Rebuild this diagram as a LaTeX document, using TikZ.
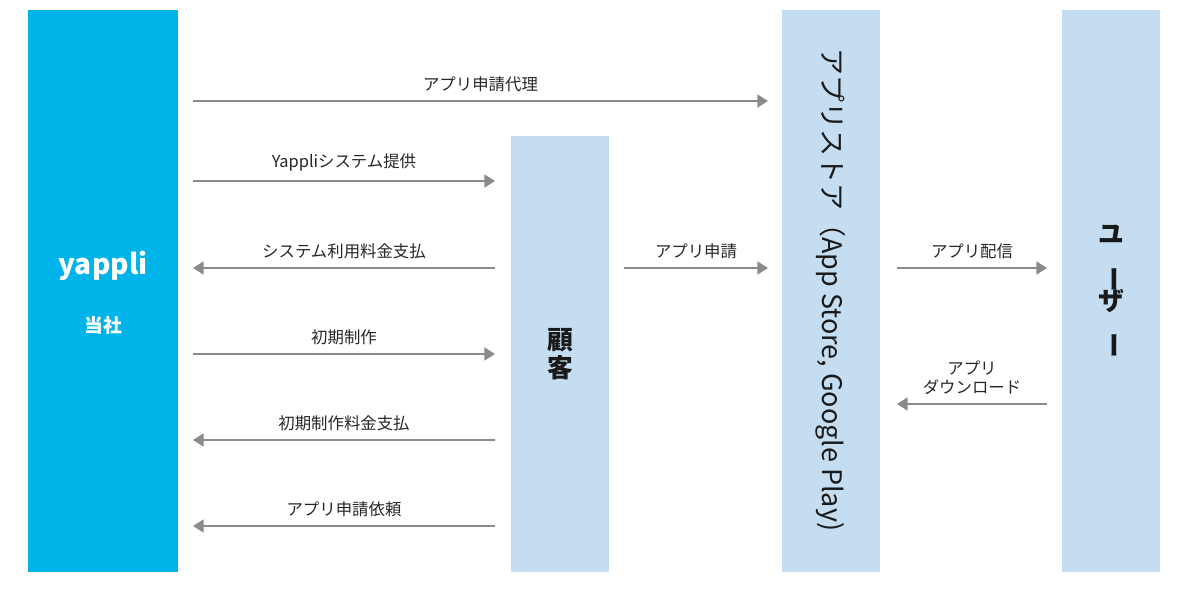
\documentclass[tikz,border=0pt]{standalone}
\usepackage{fontspec}
\setmainfont{Noto Sans CJK JP}
\usetikzlibrary{arrows.meta}
\definecolor{yappliblue}{HTML}{00B4EA}
\definecolor{boxblue}{HTML}{C5DDF0}
\definecolor{arrowgray}{HTML}{8A8A8A}
\tikzset{
  col/.style={fill=boxblue,draw=none},
  flow/.style={draw=arrowgray,line width=1.4pt,-{Triangle[length=9pt,width=11pt]}},
  lbl/.style={font=\fontsize{14}{16}\selectfont,text=black!85},
  big/.style={font=\fontsize{22}{22}\selectfont,text=black!90}
}
\begin{document}
\begin{tikzpicture}[x=0.03cm,y=-0.03cm]
	%% frame
	\useasboundingbox (0,0) rectangle (1195,599);

	% columns
	\fill[yappliblue] (28,10) rectangle (178,572);
	\fill[col] (511,136) rectangle (609,572);
	\fill[col] (782,10) rectangle (880,572);
	\fill[col] (1062,10) rectangle (1160,572);

	\node[font=\fontsize{24}{26}\selectfont\bfseries,text=white] (logo) at (103,266) {yappli};
	\node[font=\fontsize{16}{18}\selectfont\bfseries,text=white] (us) at (103,325) {当社};
	\node[big,font=\fontsize{22}{24}\selectfont\bfseries,align=center] (kokyaku) at (560,354) {顧\\客};
	\node[big,font=\fontsize{23}{23}\selectfont,rotate=-90] (store) at (831,290) {アプリストア（App Store, Google Play)};
	\node[big,font=\fontsize{22}{22}\selectfont\bfseries,align=center,inner sep=0pt] (user) at (1111,292)
	  {ユ\\[-3pt]\rotatebox{-90}{ー}\\[-3pt]ザ\\[-3pt]\rotatebox{-90}{ー}};

	% end points
	\foreach \n/\y in {a/101,b/181,c/268,d/354,e/440,f/526} {
		\coordinate (L\n) at (193,\y);
		\coordinate (R\n) at (495,\y);
	}
	\coordinate (Sa) at (768,101);
	\coordinate (Ka) at (624,268);
	\coordinate (Sc) at (768,268);
	\coordinate (Ua) at (897,268);
	\coordinate (Ub) at (1047,268);
	\coordinate (Da) at (1047,404);
	\coordinate (Db) at (897,404);

	% arrows
	\draw[flow] (La) -- node[lbl,above=4pt] {アプリ申請代理} (Sa);
	\draw[flow] (Lb) -- node[lbl,above=4pt] {Yappliシステム提供} (Rb);
	\draw[flow] (Rc) -- node[lbl,above=4pt] {システム利用料金支払} (Lc);
	\draw[flow] (Ld) -- node[lbl,above=4pt] {初期制作} (Rd);
	\draw[flow] (Re) -- node[lbl,above=4pt] {初期制作料金支払} (Le);
	\draw[flow] (Rf) -- node[lbl,above=4pt] {アプリ申請依頼} (Lf);
	\draw[flow] (Ka) -- node[lbl,above=4pt] {アプリ申請} (Sc);
	\draw[flow] (Ua) -- node[lbl,above=4pt] {アプリ配信} (Ub);
	\draw[flow] (Da) -- node[lbl,above=4pt,align=center] {アプリ\\ダウンロード} (Db);
\end{tikzpicture}
\end{document}
